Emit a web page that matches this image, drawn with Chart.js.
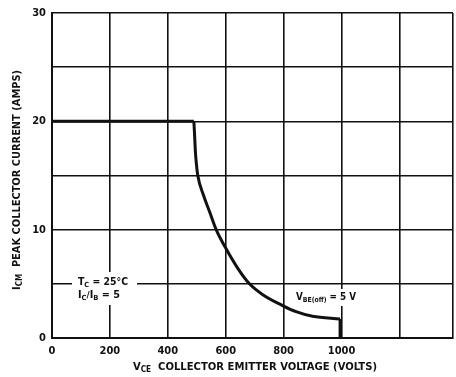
<!DOCTYPE html>
<html>
<head>
<meta charset="utf-8">
<script src="https://cdn.jsdelivr.net/npm/chart.js@4/dist/chart.umd.min.js"></script>
<style>
  html, body { margin: 0; padding: 0; background: #fff; }
  #wrap { width: 456px; height: 377px; position: relative; }
</style>
</head>
<body>
<div id="wrap"><canvas id="soa"></canvas></div>
<script>
// peak collector current vs collector-emitter voltage
const vce = [0, 490, 492, 495.5, 499, 503.5, 523, 545, 567, 600, 640, 682, 728, 800, 843, 900, 995, 995];
const icm = [20, 20, 19, 17.1, 16, 15, 13.2, 11.6, 10, 8.3, 6.5, 5, 4.0, 2.95, 2.43, 2.0, 1.75, 0];

const xTicks = [0, 200, 400, 600, 800, 1000];
const yTicks = [0, 10, 20, 30];

const FONT = '"DejaVu Sans Condensed", "DejaVu Sans", sans-serif';
const INK = "#111";

const pts = vce.map((v, i) => ({ x: v, y: icm[i] }));
const last = pts.length - 1;

// text runs: [text, size, dy]  (dy > 0 pushes a run down as a subscript)
function runsWidth(ctx, runs) {
    let w = 0;
    runs.forEach(([t, size]) => {
        ctx.font = `bold ${size}px ${FONT}`;
        w += ctx.measureText(t).width;
    });
    return w;
}

function drawRuns(ctx, x, y, runs, targetW) {
    const w = runsWidth(ctx, runs);
    const sx = targetW ? targetW / w : 1;
    ctx.save();
    ctx.translate(x, y);
    ctx.scale(sx, 1);
    ctx.fillStyle = INK;
    ctx.textBaseline = "alphabetic";
    ctx.textAlign = "left";
    let cx = 0;
    runs.forEach(([t, size, dy]) => {
        ctx.font = `bold ${size}px ${FONT}`;
        ctx.fillText(t, cx, dy || 0);
        cx += ctx.measureText(t).width;
    });
    ctx.restore();
}

const labelsPlugin = {
    id: "labels",
    beforeDatasetsDraw(chart) {
        const ctx = chart.ctx;
        // white patches that break the grid behind the notes
        ctx.save();
        ctx.fillStyle = "#fff";
        ctx.fillRect(72, 272, 65, 33);
        ctx.fillRect(290, 289, 70, 17);
        ctx.restore();
        drawRuns(ctx, 78, 285, [["T", 10], ["C", 7, 2], [" = 25°C", 10]], 50);
        drawRuns(ctx, 78, 298, [["I", 10], ["C", 7, 2], ["/", 9], ["I", 10], ["B", 7, 2], [" = 5", 10]], 42);
        drawRuns(ctx, 296, 300, [["V", 10], ["BE(off)", 7, 2], [" = 5 V", 10]], 60);
    },
    afterDraw(chart) {
        const ctx = chart.ctx;
        // x axis title
        drawRuns(ctx, 133, 370, [["V", 11], ["CE", 8, 2], ["  COLLECTOR EMITTER VOLTAGE (VOLTS)", 11]], 244);
        // y axis title, rotated
        ctx.save();
        ctx.translate(20, 290);
        ctx.rotate(-Math.PI / 2);
        drawRuns(ctx, 0, 0, [["I", 11], ["CM", 8, 2], ["  PEAK COLLECTOR CURRENT (AMPS)", 11]], 220);
        ctx.restore();
    }
};

const lineStyle = {
    showLine: true,
    borderColor: INK,
    borderWidth: 3,
    pointRadius: 0,
    fill: false
};

new Chart(document.getElementById("soa"), {
    type: "scatter",
    data: {
        datasets: [
            // flat current limit
            { ...lineStyle, data: pts.slice(0, 2), tension: 0 },
            // falling curve
            { ...lineStyle, data: pts.slice(1, last), cubicInterpolationMode: "monotone" },
            // drop to zero
            { ...lineStyle, data: pts.slice(last - 1), tension: 0 }
        ]
    },
    options: {
        responsive: true,
        maintainAspectRatio: false,
        animation: false,
        layout: { padding: { top: 13, right: 3, left: 0, bottom: 0 } },
        plugins: {
            legend: { display: false },
            tooltip: { enabled: false }
        },
        scales: {
            x: {
                type: "linear",
                min: 0,
                max: 1385,
                afterFit: (s) => {
                    s.height = 39;
                    s.paddingRight = 0;
                    s.paddingLeft = 0;
                },
                afterBuildTicks: (s) => {
                    s.ticks = [0, 200, 400, 600, 800, 1000, 1200, 1385].map((v) => ({ value: v }));
                },
                ticks: {
                    color: INK,
                    padding: 7,
                    maxRotation: 0,
                    autoSkip: false,
                    font: { family: FONT, size: 11, weight: "bold" },
                    callback: (v) => (xTicks.includes(v) ? String(v) : "")
                },
                grid: { color: INK, lineWidth: 1.6, drawTicks: false },
                border: { color: INK, width: 2 }
            },
            y: {
                type: "linear",
                min: 0,
                max: 30,
                afterFit: (s) => { s.width = 52; },
                ticks: {
                    stepSize: 5,
                    color: INK,
                    padding: 6,
                    autoSkip: false,
                    font: { family: FONT, size: 11, weight: "bold" },
                    callback: (v) => (yTicks.includes(v) ? String(v) : "")
                },
                grid: { color: INK, lineWidth: 1.6, drawTicks: false },
                border: { color: INK, width: 2 }
            }
        }
    },
    plugins: [labelsPlugin]
});
</script>
</body>
</html>
